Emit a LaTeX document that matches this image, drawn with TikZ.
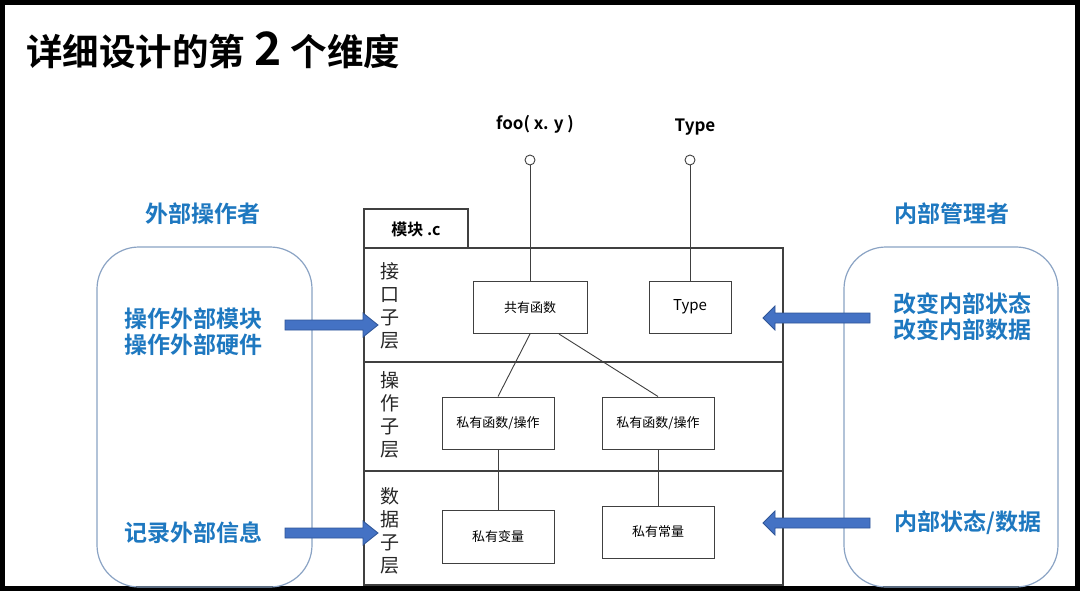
\documentclass[tikz,border=0pt]{standalone}
\usepackage{fontspec}
\setmainfont{Noto Sans CJK SC}
\newfontfamily\cjk{Noto Sans CJK SC}
\newfontfamily\cjkb{Noto Sans CJK SC Bold}
\definecolor{bluetxt}{HTML}{1E78C0}
\definecolor{boxline}{HTML}{404040}
\definecolor{roundline}{HTML}{8AA3C4}
\definecolor{arrfill}{HTML}{4472C4}
\definecolor{arrline}{HTML}{2F5597}
\tikzset{
  bluelabel/.style={text=bluetxt, font=\cjkb\fontsize{23}{27}\selectfont, align=center, inner sep=0},
  innerbox/.style={draw=boxline, line width=1pt, minimum width=112pt, minimum height=52pt, font=\cjk\fontsize{13}{15}\selectfont, inner sep=0},
  layerlabel/.style={font=\cjk\fontsize{19}{23}\selectfont, align=center, inner sep=0, text=black!85},
  link/.style={draw=boxline, line width=0.9pt},
  holder/.style={draw=roundline, line width=1.2pt, rounded corners=42pt},
  blockarr/.style={fill=arrfill, draw=arrline, line width=0.8pt},
}
\newcommand\rightblock[4]{% tail x, head base x, tip x, y
  \path[blockarr] (#1,#4-5) -- (#2,#4-5) -- (#2,#4-12) -- (#3,#4) -- (#2,#4+12) -- (#2,#4+5) -- (#1,#4+5) -- cycle;}
\begin{document}
\begin{tikzpicture}[x=1pt,y=-1pt]
\useasboundingbox (0,0) rectangle (1080,591);
\fill[white] (0,0) rectangle (1080,591);
\draw[line width=5pt] (2.5,2.5) rectangle (1077.5,588.5);

% title
\node[anchor=west, inner sep=0, font=\cjkb\fontsize{36.5}{40}\selectfont] (title) at (26,50)
  {详细设计的第\hspace{0.25em}{\fontsize{46}{46}\selectfont 2}\hspace{0.25em}个维度};

% module
\draw[boxline, line width=1.2pt] (364,209) rectangle (468,248);
\node[inner sep=0, font=\cjkb\fontsize{16}{18}\selectfont] (modname) at (416,229) {模块 .c};
\draw[boxline, line width=1.2pt] (364,248) rectangle (783,585);
\draw[boxline, line width=1.2pt] (364,362) -- (783,362);
\draw[boxline, line width=1.2pt] (364,471) -- (783,471);

\node[layerlabel] (l1) at (390,306) {接\\口\\子\\层};
\node[layerlabel] (l2) at (390,415) {操\\作\\子\\层};
\node[layerlabel] (l3) at (390,531) {数\\据\\子\\层};

% inner boxes
\node[innerbox, minimum width=114pt] (pub) at (530,307.5) {共有函数};
\node[innerbox, minimum width=82pt, font=\cjk\fontsize{15}{17}\selectfont] (type) at (690,307) {Type};
\node[innerbox] (priv1) at (498,423) {私有函数/操作};
\node[innerbox] (priv2) at (658,423) {私有函数/操作};
\node[innerbox, minimum height=53pt] (var) at (498,536.5) {私有变量};
\node[innerbox] (const) at (658,532) {私有常量};

\draw[link] (pub.south) -- (priv1.north);
\draw[link] ([xshift=29pt]pub.south) -- (priv2.north);
\draw[link] (priv1.south) -- (var.north);
\draw[link] (priv2.south) -- (const.north);

% lollipops
\node[draw=boxline, circle, line width=0.9pt, minimum size=10pt, inner sep=0] (c1) at (530,160) {};
\node[draw=boxline, circle, line width=0.9pt, minimum size=10pt, inner sep=0] (c2) at (690,160) {};
\draw[link] (c1) -- (pub.north);
\draw[link] (c2) -- (type.north);
\node[inner sep=0, font=\cjkb\fontsize{17}{19}\selectfont] (foo) at (535,124) {foo( x. y )};
\node[inner sep=0, font=\cjkb\fontsize{17}{19}\selectfont] (typel) at (695,127) {Type};

% holders
\draw[holder] (97,247) rectangle (312,587);
\draw[holder] (844,247) rectangle (1058,587);
\node[bluelabel] (ext) at (203,214) {外部操作者};
\node[bluelabel] (int) at (952,214) {内部管理者};
\node[bluelabel] (ext1) at (193,331.5) {操作外部模块\\[-0.5pt]操作外部硬件};
\node[bluelabel] (ext2) at (193,533) {记录外部信息};
\node[bluelabel] (int1) at (962,316.5) {改变内部状态\\[-0.5pt]改变内部数据};
\node[bluelabel] (int2) at (968,523) {内部状态/数据};

% block arrows
\rightblock{285}{363}{378}{325}
\rightblock{285}{363}{378}{533}
\rightblock{870}{775}{763}{318}
\rightblock{870}{775}{763}{523}
\end{tikzpicture}
\end{document}
